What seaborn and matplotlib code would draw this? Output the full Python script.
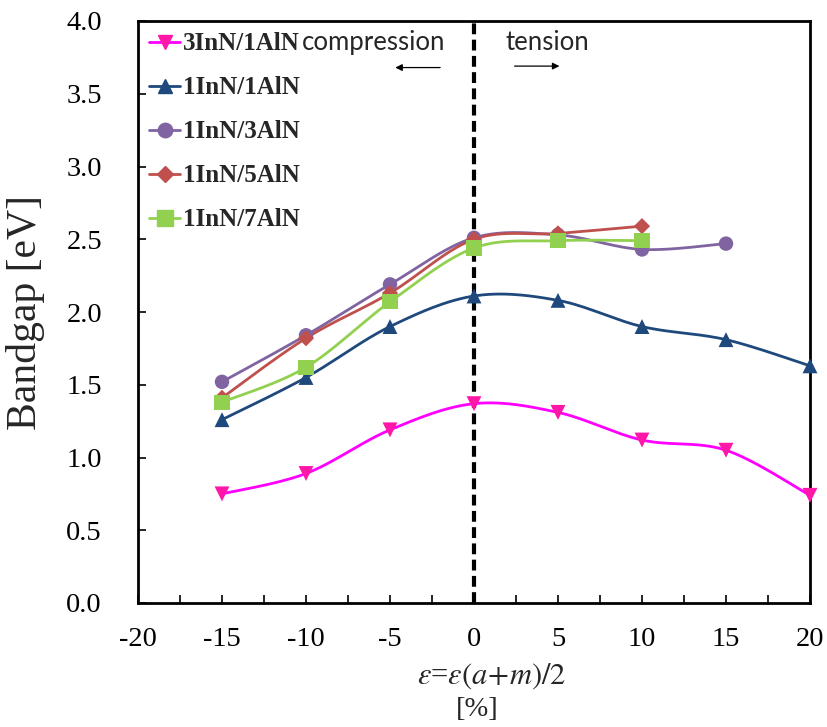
import numpy as np
import pandas as pd
import matplotlib
matplotlib.use("Agg")
import matplotlib.pyplot as plt
from matplotlib.lines import Line2D
import seaborn as sns

# Strain values (%) and band gaps (eV) for each superlattice
strain = [-15, -10, -5, 0, 5, 10, 15, 20]
gap_3InN_1AlN = [0.75, 0.89, 1.19, 1.37, 1.31, 1.12, 1.05, 0.74]
gap_1InN_1AlN = [1.26, 1.55, 1.90, 2.11, 2.08, 1.90, 1.81, 1.63]
gap_1InN_3AlN = [1.52, 1.84, 2.19, 2.51, 2.53, 2.43, 2.47]
gap_1InN_5AlN = [1.41, 1.82, 2.13, 2.50, 2.54, 2.59]
gap_1InN_7AlN = [1.38, 1.62, 2.07, 2.44, 2.49, 2.49]

series_names = ["3InN/1AlN", "1InN/1AlN", "1InN/3AlN", "1InN/5AlN", "1InN/7AlN"]
series_values = [gap_3InN_1AlN, gap_1InN_1AlN, gap_1InN_3AlN, gap_1InN_5AlN, gap_1InN_7AlN]
line_colors = ["#FF00FF", "#1F497D", "#8064A2", "#C0504D", "#92D050"]
marker_colors = ["#FF17A8", "#1F497D", "#8064A2", "#C0504D", "#92D050"]
markers = ["v", "^", "o", "D", "s"]
marker_sizes = [115, 115, 108, 68, 120]

x_ticks = [-20, -15, -10, -5, 0, 5, 10, 15, 20]
y_ticks = [0.0, 0.5, 1.0, 1.5, 2.0, 2.5, 3.0, 3.5, 4.0]

rows = []
for name, vals in zip(series_names, series_values):
    for x, y in zip(strain, vals):
        rows.append({"strain": x, "gap": y, "series": name})
df = pd.DataFrame(rows)


def smooth_curve(xs, ys, n=30):
    """Cardinal (Catmull-Rom style) Bezier smoothing through the points."""
    xs = np.asarray(xs, float)
    ys = np.asarray(ys, float)
    pts = np.column_stack([xs, ys])
    out = []
    for i in range(len(pts) - 1):
        p0 = pts[i - 1] if i > 0 else pts[i]
        p1 = pts[i]
        p2 = pts[i + 1]
        p3 = pts[i + 2] if i + 2 < len(pts) else pts[i + 1]
        c1 = p1 + (p2 - p0) / 6.0
        c2 = p2 - (p3 - p1) / 6.0
        t = np.linspace(0, 1, n)[:, None]
        seg = ((1 - t) ** 3) * p1 + 3 * ((1 - t) ** 2) * t * c1 + 3 * (1 - t) * t ** 2 * c2 + t ** 3 * p2
        out.append(seg if i == 0 else seg[1:])
    seg = np.vstack(out)
    return seg[:, 0], seg[:, 1]


sns.set_theme(style="white")
plt.rcParams["font.family"] = ["Liberation Serif", "DejaVu Serif"]
plt.rcParams["mathtext.fontset"] = "stix"

fig = plt.figure(figsize=(8.28, 7.27), dpi=100)
ax = fig.add_axes([138 / 828, 1 - 603 / 727, 672 / 828, 582 / 727])

for name, lc, mc, mk, ms in zip(series_names, line_colors, marker_colors, markers, marker_sizes):
    sub = df[df["series"] == name]
    sx, sy = smooth_curve(sub["strain"].values, sub["gap"].values)
    curve = pd.DataFrame({"strain": sx, "gap": sy})
    sns.lineplot(data=curve, x="strain", y="gap", sort=False, estimator=None,
                 color=lc, linewidth=2.0, ax=ax, zorder=3)
    sns.scatterplot(data=sub, x="strain", y="gap", marker=mk, s=ms, color=mc,
                    edgecolor="none", ax=ax, zorder=4, legend=False, clip_on=False)

# zero-strain divider
ax.axvline(0, color="black", linestyle=(0, (2.6, 1.3)), linewidth=3.0, zorder=2, clip_on=False)

ax.set_xlim(-20, 20)
ax.set_ylim(0, 4.0)
ax.set_xticks(x_ticks)
ax.set_xticklabels([f"{v:d}" for v in x_ticks])
ax.set_xticks(np.arange(-17.5, 20, 5), minor=True)
ax.set_yticks(y_ticks)
ax.set_yticklabels([f"{v:.1f}" for v in y_ticks])
ax.tick_params(axis="both", which="both", direction="in", length=6, width=1.2,
               labelsize=20.5, colors="black", bottom=True, left=True)
ax.tick_params(axis="x", which="major", pad=17)
ax.tick_params(axis="y", which="major", pad=26)
for sp in ax.spines.values():
    sp.set_visible(True)
    sp.set_color("black")
    sp.set_linewidth(2.0)

ax.set_xlabel("")
ax.set_ylabel("Bandgap [eV]", fontsize=30)
ax.yaxis.set_label_coords(-0.138, 0.5)

fig.text(492 / 828, 1 - 676 / 727, r"$\varepsilon$=$\varepsilon(a\!+\!m)/2$",
         ha="center", va="center", fontsize=22)
fig.text(477 / 828, 1 - 710 / 727, "[%]", ha="center", va="center", fontsize=20.5)

# strain direction annotations
sans = ["Lato", "DejaVu Sans"]
ax.text(-5.95, 3.85, "compression", ha="center", va="center", fontsize=18.5, family=sans)
ax.text(4.35, 3.85, "tension", ha="center", va="center", fontsize=18.5, family=sans)
ax.annotate("", xy=(-4.85, 3.68), xytext=(-1.85, 3.68),
            arrowprops=dict(arrowstyle="-|>", color="black", lw=0.9, mutation_scale=10))
ax.annotate("", xy=(5.25, 3.69), xytext=(2.25, 3.69),
            arrowprops=dict(arrowstyle="-|>", color="black", lw=0.9, mutation_scale=10))

handles = [Line2D([0], [0], color=lc, lw=2.0, marker=mk, markersize=np.sqrt(ms),
                  markerfacecolor=mc, markeredgecolor=mc)
           for lc, mc, mk, ms in zip(line_colors, marker_colors, markers, marker_sizes)]
leg = ax.legend(handles, series_names, loc="upper left", bbox_to_anchor=(0.0, 1.0),
                frameon=False, handlelength=1.24, handletextpad=0.12, labelspacing=0.84,
                borderaxespad=0.05, prop={"family": "Liberation Serif", "weight": "bold", "size": 18})

fig.savefig("out.png", dpi=100)
